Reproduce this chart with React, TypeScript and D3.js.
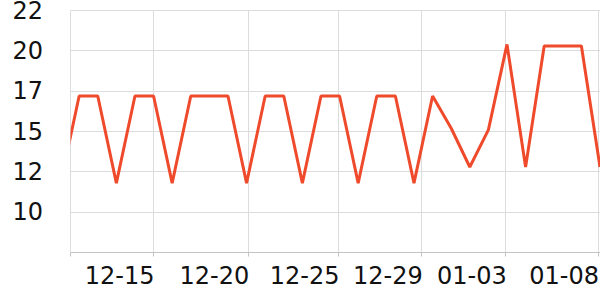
import React from "react";
import * as d3 from "d3";

const dates = [
  "2023-12-10", "2023-12-11", "2023-12-12", "2023-12-13", "2023-12-14", "2023-12-15",
  "2023-12-16", "2023-12-17", "2023-12-18", "2023-12-19", "2023-12-20", "2023-12-21",
  "2023-12-22", "2023-12-23", "2023-12-24", "2023-12-25", "2023-12-26", "2023-12-27",
  "2023-12-28", "2023-12-29", "2023-12-30", "2023-12-31", "2024-01-01", "2024-01-02",
  "2024-01-03", "2024-01-04", "2024-01-05", "2024-01-06", "2024-01-07", "2024-01-08",
];
const values = [
  11.8, 17.2, 17.2, 11.8, 17.2, 17.2,
  11.8, 17.2, 17.2, 17.2, 11.8, 17.2,
  17.2, 11.8, 17.2, 17.2, 11.8, 17.2,
  17.2, 11.8, 17.2, 15.2, 12.8, 15.1,
  20.4, 12.8, 20.3, 20.3, 20.3, 12.8,
];

const xDomain = ["2023-12-10T12:50:00Z", "2024-01-08T00:00:00Z"];
const xTickTimes = [
  "2023-12-15T00:00:00Z", "2023-12-20T02:15:00Z", "2023-12-24T22:40:00Z",
  "2023-12-29T10:00:00Z", "2024-01-02T22:20:00Z", "2024-01-07T21:30:00Z",
];
const xTickLabels = ["12-15", "12-20", "12-25", "12-29", "01-03", "01-08"];

const yDomain = [7.5, 22.5];
const yTickValues = [10, 12.5, 15, 17.5, 20, 22.5];
const yTickLabels = ["10", "12", "15", "17", "20", "22"];

const W = 600;
const H = 300;
const left = 70.5;
const right = 600;
const top = 10.5;
const bottom = 252.5;

export default function App() {
  const x = d3.scaleUtc().domain(xDomain.map((d) => new Date(d))).range([left, right]);
  const y = d3.scaleLinear().domain(yDomain).range([bottom, top]);
  const data = dates.map((d, i) => ({ t: new Date(d + "T00:00:00Z"), v: values[i] }));
  const line = d3
    .line<{ t: Date; v: number }>()
    .x((d) => x(d.t))
    .y((d) => y(d.v));
  const crisp = (v: number) => Math.floor(v) + 0.5;

  return (
    <svg
      width={W}
      height={H}
      style={{ position: "absolute", left: 0, top: 0, background: "#fff" }}
      fontFamily="DejaVu Sans"
    >
      <defs>
        <clipPath id="plot">
          <rect x={left} y={0} width={right - left} height={bottom} />
        </clipPath>
      </defs>
      {yTickValues.map((v) => (
        <line
          key={"gy" + v}
          x1={left}
          x2={right}
          y1={crisp(y(v))}
          y2={crisp(y(v))}
          stroke="#dcdcdc"
          strokeWidth={1}
        />
      ))}
      {xTickTimes.map((t) => (
        <line
          key={"gx" + t}
          x1={crisp(x(new Date(t)))}
          x2={crisp(x(new Date(t)))}
          y1={top}
          y2={bottom}
          stroke="#dcdcdc"
          strokeWidth={1}
        />
      ))}
      <line x1={left} x2={left} y1={top} y2={bottom} stroke="#dcdcdc" strokeWidth={1} />
      <line x1={left} x2={right} y1={bottom} y2={bottom} stroke="#c4c4c4" strokeWidth={1} />
      {[left, ...xTickTimes.map((t) => crisp(x(new Date(t))))].map((px, i) => (
        <line key={"tk" + i} x1={px} x2={px} y1={bottom} y2={bottom + 4} stroke="#c4c4c4" strokeWidth={1} />
      ))}
      {yTickValues.map((v, i) => (
        <text
          key={"ly" + v}
          x={43}
          y={y(v)}
          textAnchor="end"
          dominantBaseline="central"
          fontSize={24}
          fill="#111"
        >
          {yTickLabels[i]}
        </text>
      ))}
      {xTickTimes.map((t, i) => (
        <text
          key={"lx" + t}
          x={x(new Date(t)) + 1}
          y={283.5}
          textAnchor="end"
          fontSize={24}
          fill="#111"
        >
          {xTickLabels[i]}
        </text>
      ))}
      <path
        d={line(data) || ""}
        fill="none"
        stroke="#ee4a2b"
        strokeWidth={3}
        strokeLinejoin="bevel"
        clipPath="url(#plot)"
      />
    </svg>
  );
}
